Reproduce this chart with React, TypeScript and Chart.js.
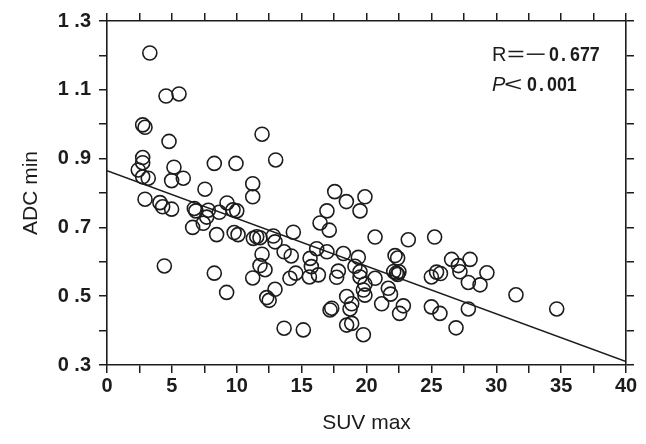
import React, { useEffect, useRef } from "react";
import { Chart, registerables } from "chart.js";

Chart.register(...registerables);

// SUV max (x) values of each case
const suvMax = [
  3.3, 4.55, 5.55, 2.75, 2.93, 4.78, 11.95, 2.75, 2.75, 2.41,
  5.16, 8.27, 9.94, 13.0, 2.75, 3.18, 4.98, 5.88, 7.55, 11.23,
  11.23, 2.93, 4.08, 4.29, 4.98, 6.73, 6.85, 7.81, 9.25, 9.71,
  10.0, 8.65, 7.68, 7.42, 6.6, 8.45, 9.8, 10.1, 11.28, 11.54,
  11.79, 12.82, 12.95, 14.36, 4.42, 8.27, 9.22, 11.95, 11.79, 12.18,
  11.23, 12.95, 12.31, 12.5, 17.55, 18.45, 19.88, 19.5, 16.95, 16.42,
  17.13, 20.66, 23.22, 25.25, 13.65, 14.2, 16.16, 16.95, 15.65, 15.75,
  15.6, 16.29, 18.22, 19.37, 19.11, 19.5, 19.5, 17.83, 17.7, 14.55,
  14.1, 20.66, 22.2, 22.4, 22.1, 22.3, 22.5, 22.4, 25.0, 25.4,
  25.7, 26.56, 27.98, 27.08, 27.2, 27.85, 28.75, 29.28, 31.52, 34.66,
  19.88, 19.76, 19.88, 21.68, 21.85, 18.47, 18.86, 18.73, 17.19, 17.32,
  21.17, 22.84, 22.55, 25.0, 25.66, 27.85, 13.65, 15.13, 18.47, 18.86,
  19.76, 26.9,
];

// ADC min (y) values of each case
const adcMin = [
  1.207, 1.082, 1.088, 0.998, 0.991, 0.95, 0.971, 0.903, 0.888, 0.867,
  0.875, 0.886, 0.886, 0.896, 0.847, 0.843, 0.836, 0.843, 0.811, 0.827,
  0.789, 0.782, 0.772, 0.76, 0.753, 0.755, 0.748, 0.75, 0.771, 0.751,
  0.748, 0.744, 0.73, 0.712, 0.7, 0.679, 0.685, 0.679, 0.668, 0.673,
  0.67, 0.675, 0.658, 0.686, 0.588, 0.567, 0.511, 0.622, 0.589, 0.577,
  0.553, 0.52, 0.496, 0.488, 0.804, 0.775, 0.789, 0.748, 0.748, 0.713,
  0.692, 0.672, 0.664, 0.672, 0.629, 0.617, 0.638, 0.629, 0.61, 0.586,
  0.556, 0.562, 0.624, 0.613, 0.587, 0.571, 0.556, 0.573, 0.555, 0.567,
  0.552, 0.552, 0.618, 0.611, 0.572, 0.567, 0.571, 0.563, 0.556, 0.57,
  0.566, 0.607, 0.607, 0.589, 0.571, 0.54, 0.533, 0.568, 0.504, 0.463,
  0.535, 0.518, 0.503, 0.523, 0.506, 0.499, 0.478, 0.463, 0.46, 0.465,
  0.478, 0.472, 0.45, 0.469, 0.45, 0.463, 0.407, 0.402, 0.416, 0.421,
  0.388, 0.408,
];

// Regression line end points
const fitX = [0, 40];
const fitY = [0.865, 0.31];

// Axes
const xMin = 0;
const xMax = 40;
const xStep = 2.5;
const yMin = 0.3;
const yMax = 1.3;
const yStep = 0.1;

const xTitle = "SUV max";
const yTitle = "ADC min";
const statR = ["R", "=", "−", "0", ".", "677"];
const statP = ["P", "<", "0", ".", "001"];

const INK = "#1c1c1c";
const SANS = '"Liberation Sans", Arial, sans-serif';
const NUMW = "600";

const statsPlugin = {
  id: "stats",
  afterDraw(chart: any) {
    const ctx = chart.ctx as CanvasRenderingContext2D;
    const x0 = chart.chartArea.right - 134;
    const y1 = chart.chartArea.top + 40;
    const y2 = y1 + 30;
    ctx.save();
    ctx.fillStyle = INK;
    ctx.textBaseline = "alphabetic";
    ctx.textAlign = "left";
    const draw = (t: string, font: string, sx: number, x: number, y: number) => {
      ctx.save();
      ctx.font = font;
      ctx.translate(x, y);
      ctx.scale(sx, 1);
      ctx.fillText(t, 0, 0);
      ctx.restore();
    };
    const fSym = `21px ${SANS}`;
    const fNum = `${NUMW} 21px ${SANS}`;
    // R = −0.677
    const sc1 = [1, 1.45, 1.75, 0.85, 0.85, 0.85];
    const off1 = [0, 15, 33, 57, 69, 78];
    statR.forEach((t, i) =>
      draw(t, i === 0 ? `20px ${SANS}` : i < 3 ? fSym : fNum, sc1[i], x0 + off1[i], y1)
    );
    // P < 0.001
    const sc2 = [1, 1.5, 0.85, 0.85, 0.85];
    const off2 = [0, 12, 35, 47, 55];
    statP.forEach((t, i) =>
      draw(t, i === 0 ? `italic 20px ${SANS}` : i < 2 ? fSym : fNum, sc2[i], x0 + off2[i], y2)
    );
    ctx.restore();
  },
};

export default function App() {
  const canvasRef = useRef<HTMLCanvasElement | null>(null);

  useEffect(() => {
    const canvas = canvasRef.current;
    if (!canvas) return;
    const points = suvMax.map((x, i) => ({ x, y: adcMin[i] }));
    const fit = fitX.map((x, i) => ({ x, y: fitY[i] }));

    const gridCommon = {
      drawOnChartArea: false,
      drawTicks: true,
      tickLength: 8,
      color: INK,
      lineWidth: 1.5,
    };
    const borderCommon = { display: true, color: INK, width: 1.6 };

    const chart = new Chart(canvas, {
      type: "scatter",
      data: {
        datasets: [
          {
            data: points,
            showLine: false,
            pointStyle: "circle",
            pointRadius: 7,
            pointBorderWidth: 1.6,
            pointBackgroundColor: "rgba(0,0,0,0)",
            pointBorderColor: INK,
            borderColor: INK,
            backgroundColor: "rgba(0,0,0,0)",
            order: 2,
          },
          {
            data: fit,
            showLine: true,
            pointRadius: 0,
            borderColor: INK,
            borderWidth: 1.6,
            fill: false,
            order: 1,
          },
        ],
      },
      options: {
        responsive: false,
        animation: false,
        events: [],
        layout: { padding: 0 },
        plugins: {
          legend: { display: false },
          tooltip: { enabled: false },
        },
        scales: {
          x: {
            type: "linear",
            position: "bottom",
            min: xMin,
            max: xMax,
            grid: gridCommon,
            border: borderCommon,
            ticks: {
              stepSize: xStep,
              autoSkip: false,
              maxRotation: 0,
              padding: 1,
              color: INK,
              font: { family: SANS, size: 20, weight: NUMW },
              callback: (v: any) => {
                const n = Number(v);
                return Math.abs(n / 5 - Math.round(n / 5)) < 1e-6 ? String(Math.round(n)) : "";
              },
            },
            title: {
              display: true,
              text: xTitle,
              color: INK,
              font: { family: SANS, size: 21 },
              padding: { top: 0, bottom: 8 },
            },
            afterFit: (s: any) => {
              s.height = 79;
            },
          },
          x2: {
            type: "linear",
            position: "top",
            min: xMin,
            max: xMax,
            grid: gridCommon,
            border: borderCommon,
            ticks: { stepSize: xStep, display: false },
            afterFit: (s: any) => {
              s.height = 21;
            },
          },
          y: {
            type: "linear",
            position: "left",
            min: yMin,
            max: yMax,
            grid: gridCommon,
            border: borderCommon,
            ticks: {
              stepSize: yStep,
              autoSkip: false,
              padding: 8,
              color: INK,
              font: { family: SANS, size: 20, weight: NUMW },
              callback: (v: any) => {
                const k = Math.round(Number(v) * 10);
                return k % 2 === 1 ? (k / 10).toFixed(1).replace(".", " .") : "";
              },
            },
            title: {
              display: true,
              text: yTitle,
              color: INK,
              font: { family: SANS, size: 21 },
              padding: { top: 19, bottom: 0 },
            },
            afterFit: (s: any) => {
              s.width = 107;
            },
          },
          y2: {
            type: "linear",
            position: "right",
            min: yMin,
            max: yMax,
            grid: gridCommon,
            border: borderCommon,
            ticks: { stepSize: yStep, display: false },
            afterFit: (s: any) => {
              s.width = 20;
            },
          },
        },
      },
      plugins: [statsPlugin],
    } as any);

    return () => {
      chart.destroy();
    };
  }, []);

  return (
    <div style={{ position: "absolute", left: 0, top: 0, width: 646, height: 444, background: "#fff" }}>
      <canvas ref={canvasRef} width={646} height={444} style={{ display: "block", width: 646, height: 444 }} />
    </div>
  );
}
